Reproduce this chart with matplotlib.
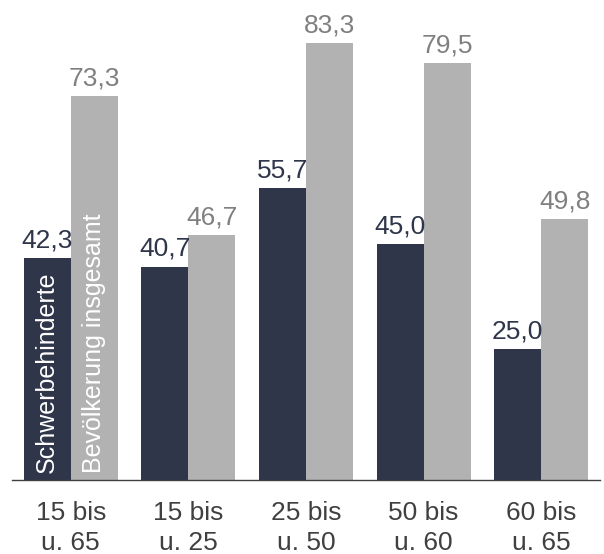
import matplotlib
matplotlib.use("Agg")
import matplotlib.pyplot as plt
import numpy as np

# Erwerbsquote nach Altersgruppen (%)
categories = ["15 bis\nu. 65", "15 bis\nu. 25", "25 bis\nu. 50", "50 bis\nu. 60", "60 bis\nu. 65"]
schwerbehinderte = [42.3, 40.7, 55.7, 45.0, 25.0]
insgesamt = [73.3, 46.7, 83.3, 79.5, 49.8]
series_names = ["Schwerbehinderte", "Bevölkerung insgesamt"]

DARK = "#2f364a"
GREY = "#b2b2b2"

plt.rcParams["font.family"] = ["Liberation Sans", "DejaVu Sans"]

fig = plt.figure(figsize=(6.04, 5.54), dpi=100)
ax = fig.add_axes([12 / 604, 74 / 554, 588 / 604, 472 / 554])

x = np.arange(len(categories))
w = 0.4
b1 = ax.bar(x - w / 2, schwerbehinderte, w, color=DARK)
b2 = ax.bar(x + w / 2, insgesamt, w, color=GREY)

def fmt(v):
    return f"{v:.1f}".replace(".", ",")

for rect, v in zip(b1, schwerbehinderte):
    ax.annotate(fmt(v), (rect.get_x() + rect.get_width() / 2, v),
                xytext=(0, 4), textcoords="offset points",
                ha="center", va="bottom", fontsize=19, color=DARK)
for rect, v in zip(b2, insgesamt):
    ax.annotate(fmt(v), (rect.get_x() + rect.get_width() / 2, v),
                xytext=(0, 4), textcoords="offset points",
                ha="center", va="bottom", fontsize=19, color="#808080")

# series names written into the first group's bars
ax.text(x[0] - w / 2, 1.3, series_names[0], rotation=90, ha="center", va="bottom",
        fontsize=18, color="white")
ax.text(x[0] + w / 2, 1.3, series_names[1], rotation=90, ha="center", va="bottom",
        fontsize=18, color="white")

ax.set_xlim(-0.5, len(categories) - 0.5)
ax.set_ylim(0, 90)
ax.set_xticks(x)
ax.set_xticklabels(categories, fontsize=19, color="#404040", linespacing=1.3)
ax.tick_params(axis="x", length=0, pad=15)
ax.set_yticks([])
for side in ("left", "right", "top"):
    ax.spines[side].set_visible(False)
ax.spines["bottom"].set_color("#404040")
ax.spines["bottom"].set_linewidth(1.0)

fig.savefig("out.png", dpi=100)
